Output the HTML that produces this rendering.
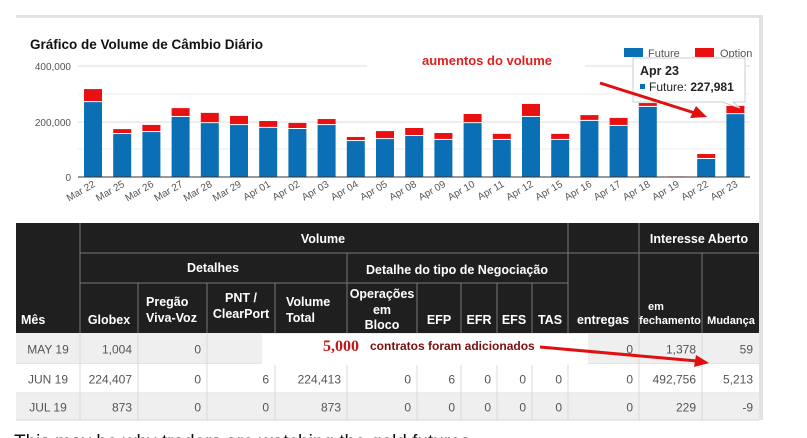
<!DOCTYPE html>
<html><head><meta charset="utf-8"><style>
html,body{margin:0;padding:0;background:#fff;width:807px;height:438px;overflow:hidden}
svg{display:block;font-family:"Liberation Sans",Arial,sans-serif}
</style></head><body>
<svg width="807" height="438" viewBox="0 0 807 438" xmlns="http://www.w3.org/2000/svg">
<rect x="16" y="15" width="747" height="3" fill="#e3e3e3"/>
<rect x="759" y="15" width="4" height="405" fill="#e3e3e3"/>
<text x="30" y="49" font-size="13.5" font-weight="bold" fill="#111">Gráfico de Volume de Câmbio Diário</text>
<g font-size="10" fill="#555" text-anchor="end">
<text x="71" y="70">400,000</text><text x="71" y="126">200,000</text><text x="71" y="181">0</text>
</g>
<g stroke="#ddd" stroke-width="1">
<line x1="78" y1="66" x2="367" y2="66"/><line x1="585" y1="66" x2="750" y2="66"/>
<line x1="78" y1="94" x2="750" y2="94" stroke="#eee"/>
<line x1="78" y1="122" x2="750" y2="122"/>
<line x1="78" y1="149" x2="750" y2="149" stroke="#eee"/>
</g>
<g id="bars"></g>
<line x1="78" y1="177" x2="750" y2="177" stroke="#333" stroke-width="1"/>
<g id="labels" font-size="10" fill="#555"></g>
<rect x="624" y="48" width="19" height="9" fill="#0a6fb5"/>
<text x="648" y="57" font-size="11" fill="#555">Future</text>
<rect x="695" y="48" width="19" height="9" fill="#e81010"/>
<text x="720" y="57" font-size="11" fill="#555">Option</text>
<text x="422" y="65" font-size="13" font-weight="bold" fill="#e02020">aumentos do volume</text>
<path d="M633 58 H745 V102 H733 L740 108 L722 102 H633 Z" fill="#fff" stroke="#ccc"/>
<text x="640" y="75" font-size="12.5" font-weight="bold" fill="#222">Apr 23</text>
<rect x="640" y="84" width="5" height="5" fill="#0a6fb5"/>
<text x="649" y="91" font-size="12" fill="#222">Future: <tspan font-weight="bold">227,981</tspan></text>
<line x1="600" y1="83" x2="698" y2="114" stroke="#e01010" stroke-width="3"/>
<polygon points="707,117 690,118 696,106" fill="#e01010"/>
<g id="table"></g>
<text x="14" y="448" font-size="19" fill="#111">This may be why traders are watching the gold futures</text>
</svg>
<script>
var v=[[271,314],[157,171],[164,186],[218,246],[196,229],[189,218],[179,200],[175,193],[189,207],[132,143],[139,164],[150,175],[136,157],[196,225],[136,154],[218,261],[136,154],[204,221],[186,211],[254,264],[1,2],[68,82],[228,254]];
var n=["Mar 22","Mar 25","Mar 26","Mar 27","Mar 28","Mar 29","Apr 01","Apr 02","Apr 03","Apr 04","Apr 05","Apr 08","Apr 09","Apr 10","Apr 11","Apr 12","Apr 15","Apr 16","Apr 17","Apr 18","Apr 19","Apr 22","Apr 23"];
var s="",l="",k=56/200;
for(var i=0;i<v.length;i++){var x=84+i*29.2,f=v[i][0]*k,t=v[i][1]*k;
s+='<rect x="'+x+'" y="'+(177-t)+'" width="18" height="'+Math.max(t-f,0)+'" fill="#e81010"/>';
s+='<rect x="'+x+'" y="'+(177-f+1)+'" width="18" height="'+Math.max(f-1,0)+'" fill="#0a6fb5"/>';
var cx=x+12;l+='<text transform="translate('+cx+',186) rotate(-30)" text-anchor="end">'+n[i]+'</text>';}
document.getElementById("bars").innerHTML=s;document.getElementById("labels").innerHTML=l;
var T='';
T+='<rect x="16" y="223" width="743" height="110" fill="#1f1f1f"/>';
var G='#777';
function L(x1,y1,x2,y2,c){T+='<line x1="'+x1+'" y1="'+y1+'" x2="'+x2+'" y2="'+y2+'" stroke="'+(c||G)+'"/>';}
L(80,223,80,333);L(568,223,568,333);L(639,223,639,333);
L(80,253,759,253);L(80,283,568,283);
L(347,253,347,333);[138,207,275,417,461,497,532].forEach(function(x){L(x,283,x,333)});L(702,253,702,333);
function W(x,y,t,a,sz){T+='<text x="'+x+'" y="'+y+'" fill="#fff" font-size="'+(sz||12.5)+'" font-weight="bold" text-anchor="'+(a||'middle')+'">'+t+'</text>';}
W(323,243,'Volume');W(699,243,'Interesse Aberto');W(213,272,'Detalhes');W(457,274,'Detalhe do tipo de Negociação');
W(21,324,'Mês','start');W(109,324,'Globex');W(146,306,'Pregão','start');W(146,322,'Viva-Voz','start');
W(241,302,'PNT /');W(241,318,'ClearPort');W(286,306,'Volume','start');W(286,322,'Total','start');
W(382,298,'Operações');W(382,314,'em');W(382,329,'Bloco');W(439,324,'EFP');W(479,324,'EFR');W(514,324,'EFS');W(550,324,'TAS');
W(603,324,'entregas');W(648,310,'em','start',11);W(670,324,'fechamento','middle',11);W(731,324,'Mudança','middle',11);
var rows=[["MAY 19","1,004","0","","","","","","","","0","1,378","59"],["JUN 19","224,407","0","6","224,413","0","6","0","0","0","0","492,756","5,213"],["JUL 19","873","0","0","873","0","0","0","0","0","0","229","-9"]];
var ys=[333,364,393,420],bg=["#efefef","#fff","#efefef"];
var cols=[16,80,138,207,275,347,417,461,497,532,568,639,702,759];
for(var r=0;r<3;r++){T+='<rect x="16" y="'+ys[r]+'" width="743" height="'+(ys[r+1]-ys[r])+'" fill="'+bg[r]+'"/>';
for(var c=1;c<13;c++)L(cols[c],ys[r],cols[c],ys[r+1],'#d8d8d8');
L(16,ys[r+1],759,ys[r+1],'#d8d8d8');
var ty=(ys[r]+ys[r+1])/2+5;
T+='<text x="48" y="'+ty+'" font-size="12" fill="#555" text-anchor="middle">'+rows[r][0]+'</text>';
for(var c=1;c<13;c++)T+='<text x="'+(cols[c+1]-6)+'" y="'+ty+'" font-size="12" fill="#555" text-anchor="end">'+rows[r][c]+'</text>';}
T+='<rect x="262" y="334" width="326" height="31" fill="#fff"/>';
T+='<text x="323" y="351" font-family="Liberation Serif,serif" font-size="16" font-weight="bold" fill="#c01818">5,000</text>';
T+='<text x="370" y="350" font-size="12" font-weight="bold" fill="#7a0e0e">contratos foram adicionados</text>';
T+='<line x1="540" y1="347" x2="697" y2="361" stroke="#e01010" stroke-width="3"/><polygon points="709,363 694,367 696,355" fill="#e01010"/>';
document.getElementById("table").innerHTML=T;
</script>
</body></html>
